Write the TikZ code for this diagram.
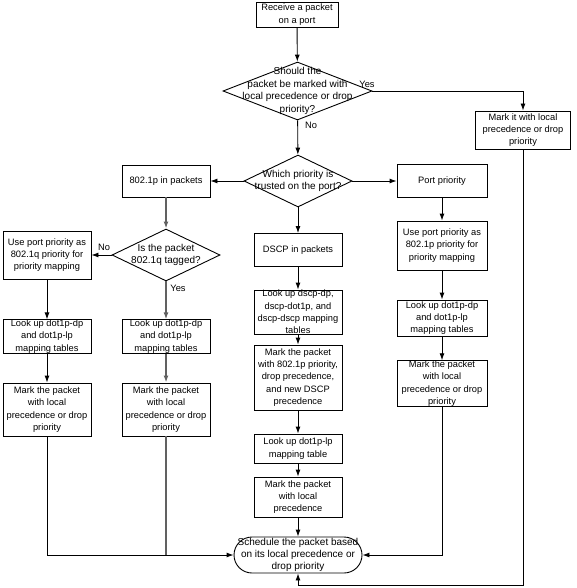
\documentclass[tikz,border=0pt]{standalone}
\usepackage{fontspec}
\setmainfont{Liberation Sans}
\usetikzlibrary{shapes.geometric,arrows.meta}

\begin{document}
\begin{tikzpicture}[x=1pt,y=-1pt,line width=0.9pt,
  box/.style={draw,rectangle,minimum width=88pt,inner sep=0pt,align=center,font=\fontsize{9.3}{12.3}\selectfont},
  dia/.style={draw,diamond,inner sep=0pt},
  txt/.style={align=center,inner sep=0pt,font=\fontsize{9.3}{12.3}\selectfont},
  diatxt/.style={txt,font=\fontsize{10}{12.5}\selectfont},
  arr/.style={-{Latex[length=7pt,width=5pt]}},
  grey/.style={draw=black!62,line width=1.4pt}]
\useasboundingbox (0,0) rectangle (576,588);

\node [box,minimum width=82pt,minimum height=25pt] (start) at (297,14.5) {Receive a packet\\on a port};
\node [dia,minimum width=149pt,minimum height=58pt] (q1) at (297.5,91) {};
\node [diatxt] (q1t) at (q1) {Should the\\packet be marked with\\local precedence or drop\\priority?};
\node [box,minimum width=95pt,minimum height=38pt] (markit) at (523,130) {Mark it with local\\precedence or drop\\priority};

\node [dia,minimum width=108pt,minimum height=52pt] (q2) at (298,181) {};
\node [diatxt] (q2t) at (q2) {Which priority is\\trusted on the port?};
\node [box,minimum height=32pt] (p1) at (166,181) {802.1p in packets};
\node [box,minimum height=33pt] (dscp) at (298,250) {DSCP in packets};
\node [box,minimum width=90pt,minimum height=33pt] (port) at (442,181) {Port priority};

\node [dia,minimum width=108pt,minimum height=52pt] (q3) at (166,255) {};
\node [diatxt] (q3t) at (q3) {Is the packet\\802.1q tagged?};

\node [box,minimum height=48pt] (l1) at (47,255) {Use port priority as\\802.1q priority for\\priority mapping};
\node [box,minimum height=33pt] (l2) at (47,336.5) {Look up dot1p-dp\\and dot1p-lp\\mapping tables};
\node [box,minimum height=53pt] (l3) at (47,409.5) {Mark the packet\\with local\\precedence or drop\\priority};

\node [box,minimum height=33pt] (c1) at (166,336.5) {Look up dot1p-dp\\and dot1p-lp\\mapping tables};
\node [box,minimum height=53pt] (c2) at (166,409.5) {Mark the packet\\with local\\precedence or drop\\priority};

\node [box,minimum height=44pt] (m1) at (298,312) {Look up dscp-dp,\\dscp-dot1p, and\\dscp-dscp mapping\\tables};
\node [box,minimum height=65pt] (m2) at (298,377.5) {Mark the packet\\with 802.1p priority,\\drop precedence,\\and new DSCP\\precedence};
\node [box,minimum height=29pt] (m3) at (298,448.5) {Look up dot1p-lp\\mapping table};
\node [box,minimum height=40pt] (m4) at (298,497) {Mark the packet\\with local\\precedence};

\node [box,minimum width=90pt,minimum height=49pt] (r1) at (442,245.5) {Use port priority as\\802.1p priority for\\priority mapping};
\node [box,minimum width=90pt,minimum height=36pt] (r2) at (442,318) {Look up dot1p-dp\\and dot1p-lp\\mapping tables};
\node [box,minimum width=90pt,minimum height=45pt] (r3) at (442,383.5) {Mark the packet\\with local\\precedence or drop\\priority};

\node [box,minimum width=128pt,minimum height=36pt,rounded corners=18pt,font=\fontsize{10}{11.8}\selectfont] (sched) at (298,555) {Schedule the packet based\\on its local precedence or\\drop priority};

\node [txt] (yes1) at (367,84) {Yes};
\node [txt] (no1) at (311,125) {No};
\node [txt] (no3) at (104,247) {No};
\node [txt] (yes3) at (178,288) {Yes};
\coordinate (loop) at (523,585);

\draw [arr] (start) -- (q1);
\draw [arr] (q1.east) -| (markit.north);
\draw [arr] (q1) -- (q2);
\draw [arr] (q2) -- (p1);
\draw [arr] (q2) -- (port);
\draw [arr] (q2) -- (dscp);
\draw [arr,grey] (p1) -- (q3);
\draw [arr] (q3) -- (l1);
\draw [arr,grey] (q3) -- (c1);
\draw [arr] (l1) -- (l2);
\draw [arr] (l2) -- (l3);
\draw [arr,grey] (c1) -- (c2);
\draw [arr] (dscp) -- (m1);
\draw [arr] (m1) -- (m2);
\draw [arr] (m2) -- (m3);
\draw [arr] (m3) -- (m4);
\draw [arr] (m4) -- (sched);
\draw [arr] (port) -- (r1);
\draw [arr] (r1) -- (r2);
\draw [arr] (r2) -- (r3);
\draw [arr] (l3.south) |- (sched.west);
\draw [grey] (c2.south) -- (c2.south |- sched.west);
\draw [arr] (r3.south) |- (sched.east);
\draw [arr] (markit.south) -- (loop) -| (sched.south);
\end{tikzpicture}
\end{document}
